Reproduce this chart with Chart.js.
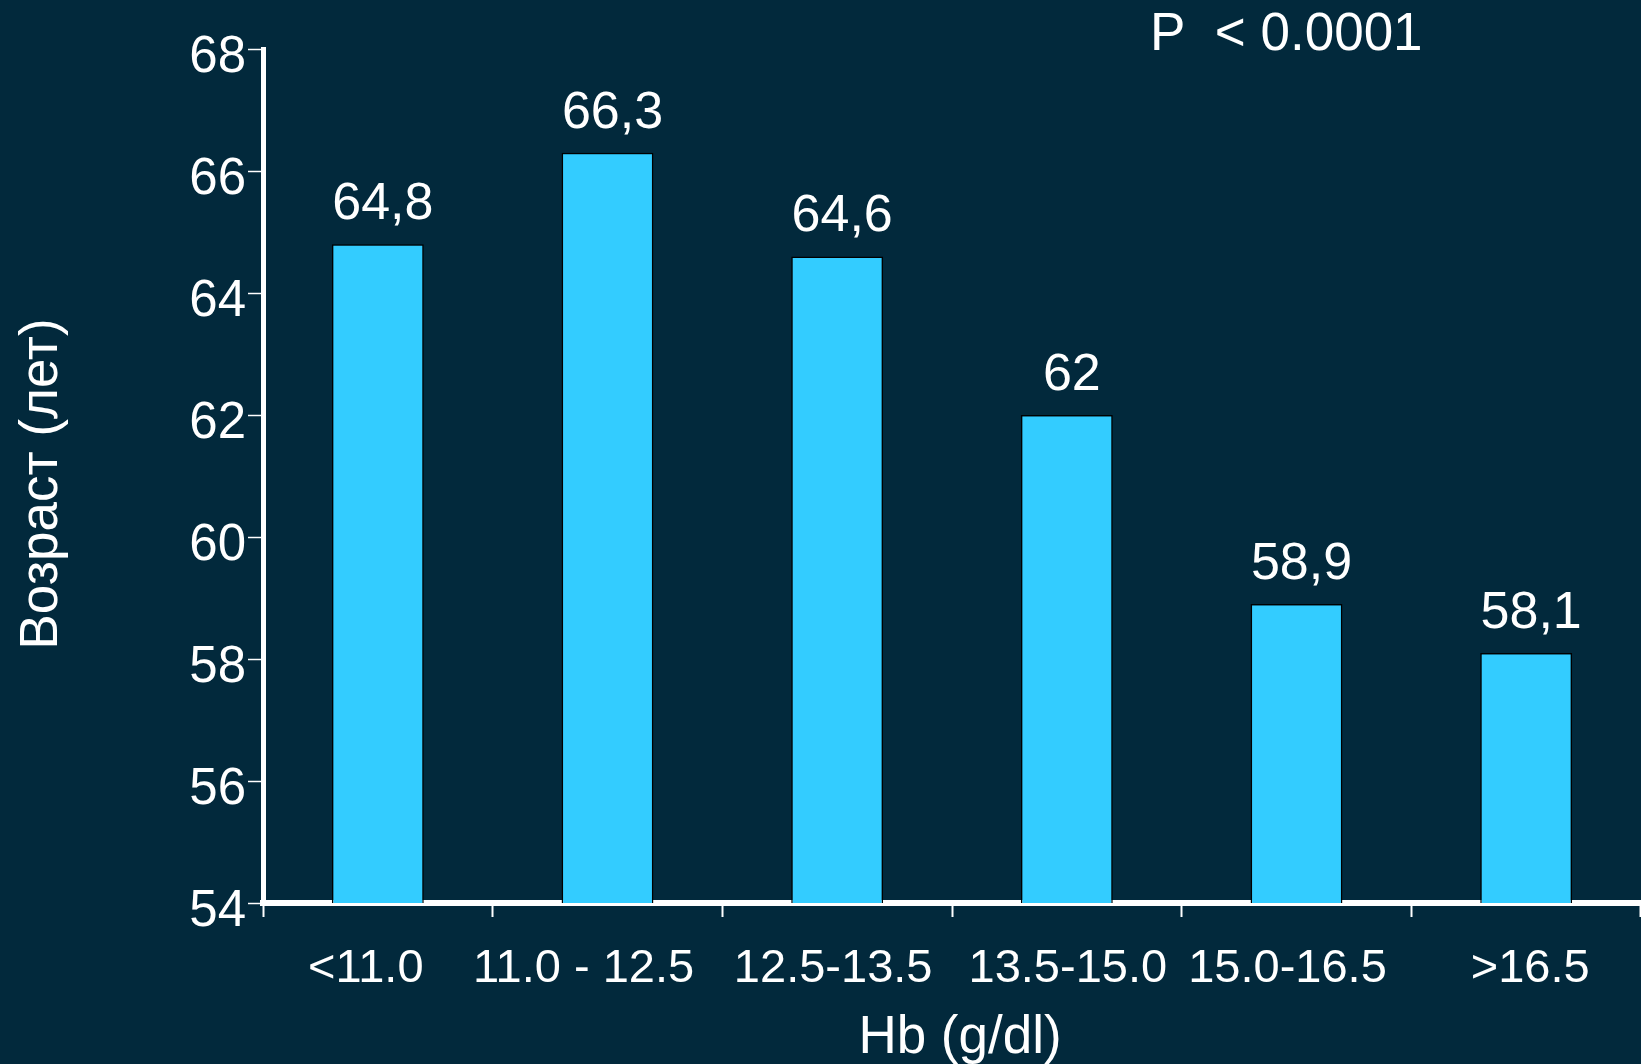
<!DOCTYPE html>
<html lang="ru">
<head>
<meta charset="utf-8">
<title>Возраст и Hb</title>
<script src="https://cdn.jsdelivr.net/npm/chart.js@4.4.1/dist/chart.umd.min.js"></script>
<style>
  html, body { margin: 0; padding: 0; background: #02293c; }
  #wrap { width: 1641px; height: 1064px; position: relative; }
</style>
</head>
<body>
<div id="wrap"><canvas id="ageChart"></canvas></div>
<script>
/* --------- DATA --------- */
const hbGroups = ["<11.0", "11.0 - 12.5", "12.5-13.5", "13.5-15.0", "15.0-16.5", ">16.5"];
const meanAge = [64.8, 66.3, 64.6, 62, 58.9, 58.1];
const ageTicks = [54, 56, 58, 60, 62, 64, 66, 68];
const pValueText = "P  < 0.0001";

const FONT = "'Liberation Sans', Arial, sans-serif";
const WHITE = "#ffffff";

// hand nudges for the group labels under the axis (px)
const groupLabelShift = [-12, -24, -4, 1, -9, 4];

/* --------- PLUGINS --------- */
// mean age printed over each bar, decimal comma
const valueLabels = {
  id: "valueLabels",
  afterDatasetsDraw(chart) {
    const { ctx } = chart;
    const meta = chart.getDatasetMeta(0);
    ctx.save();
    ctx.font = `52px ${FONT}`;
    ctx.fillStyle = WHITE;
    ctx.textAlign = "center";
    ctx.textBaseline = "alphabetic";
    meta.data.forEach((bar, i) => {
      const txt = String(meanAge[i]).replace(".", ",");
      ctx.fillText(txt, bar.x + 5, bar.y - 25);
    });
    ctx.restore();
  }
};

// Hb groups and axis titles
const axisText = {
  id: "axisText",
  afterDraw(chart) {
    const { ctx, chartArea } = chart;
    const x = chart.scales.x;
    ctx.save();
    ctx.fillStyle = WHITE;
    ctx.textBaseline = "alphabetic";
    ctx.textAlign = "center";

    ctx.font = `47px ${FONT}`;
    hbGroups.forEach((g, i) => {
      ctx.fillText(g, x.getPixelForValue(i) + groupLabelShift[i], x.top + 79);
    });

    ctx.font = `53px ${FONT}`;
    ctx.fillText("Hb (g/dl)", (chartArea.left + chartArea.right) / 2 + 8, 1053);

    ctx.translate(57, (chartArea.top + chartArea.bottom) / 2 + 8);
    ctx.rotate(-Math.PI / 2);
    ctx.fillText("Возраст (лет)", 0, 0);
    ctx.restore();
  }
};

const pNote = {
  id: "pNote",
  afterDraw(chart) {
    const { ctx } = chart;
    ctx.save();
    ctx.font = `53px ${FONT}`;
    ctx.fillStyle = WHITE;
    ctx.textAlign = "left";
    ctx.textBaseline = "alphabetic";
    ctx.fillText(pValueText, 1150, 50);
    ctx.restore();
  }
};

/* --------- CHART --------- */
new Chart(document.getElementById("ageChart"), {
  type: "bar",
  data: {
    labels: hbGroups,
    datasets: [{
      data: meanAge,
      backgroundColor: "#33ccff",
      borderColor: "#000000",
      borderWidth: 1.5,
      barPercentage: 0.4,
      categoryPercentage: 1
    }]
  },
  options: {
    responsive: true,
    maintainAspectRatio: false,
    animation: false,
    layout: { padding: { top: 49, right: 0, left: 0, bottom: 0 } },
    plugins: {
      legend: { display: false },
      tooltip: { enabled: false }
    },
    scales: {
      x: {
        z: 1,
        afterFit(scale) { scale.height = 161; },
        border: { display: true, color: WHITE, width: 6 },
        grid: {
          drawOnChartArea: false,
          drawTicks: true,
          tickLength: 14,
          tickWidth: 2,
          tickColor: WHITE,
          color: WHITE
        },
        ticks: { display: false }
      },
      y: {
        z: 1,
        min: 54,
        max: 68,
        afterFit(scale) { scale.width = 263; },
        afterBuildTicks(scale) { scale.ticks = ageTicks.map(v => ({ value: v })); },
        border: { display: true, color: WHITE, width: 5 },
        grid: {
          drawOnChartArea: false,
          drawTicks: true,
          tickLength: 15,
          tickWidth: 1.5,
          tickColor: WHITE,
          color: WHITE
        },
        ticks: {
          color: WHITE,
          font: { family: FONT, size: 51 },
          padding: 2,
          labelOffset: 9
        }
      }
    }
  },
  plugins: [valueLabels, axisText, pNote]
});
</script>
</body>
</html>
